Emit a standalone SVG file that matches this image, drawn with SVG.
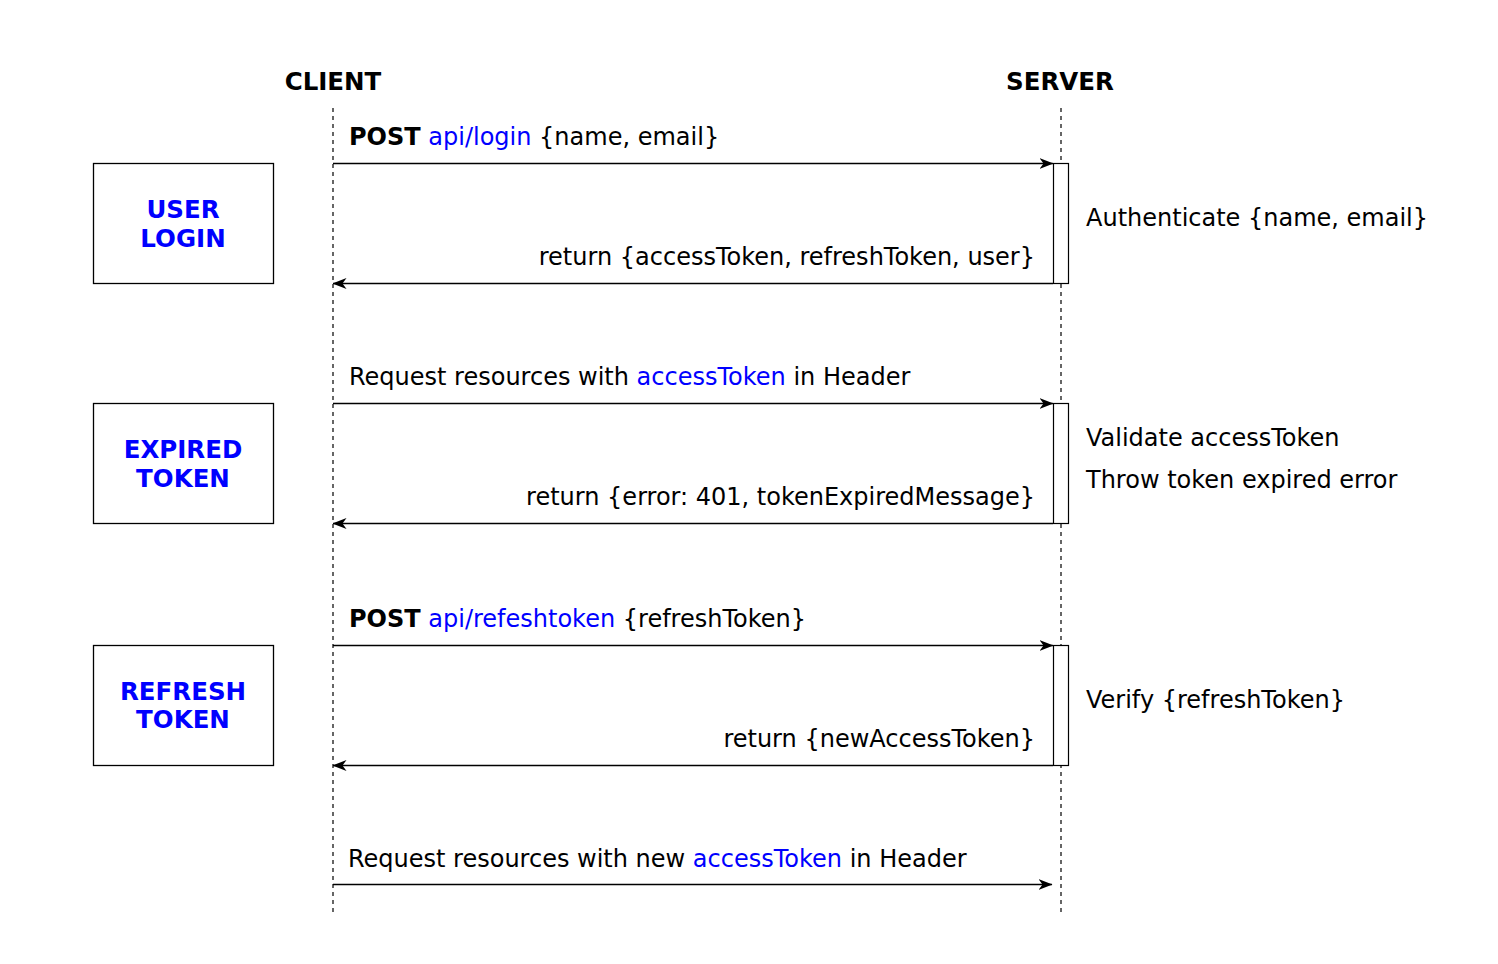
<svg xmlns="http://www.w3.org/2000/svg" width="1498" height="964" viewBox="0 0 1498 964">
<defs>
<marker id="arr" viewBox="0 0 14 12" refX="13.5" refY="6" markerWidth="14" markerHeight="12" markerUnits="userSpaceOnUse" orient="auto">
<path d="M0,0.5 L14,6 L0,11.5 L4,6 Z" fill="#000"/>
</marker>
</defs>
<style>
text{font-family:"DejaVu Sans",Verdana,sans-serif;font-size:24px;fill:#000}
.b{font-weight:bold}
.blue{fill:#0000FF}
.hdr{font-weight:bold;font-size:24.5px}
.lbl{font-weight:bold;font-size:24.5px;fill:#0000FF;text-anchor:middle}
.life{stroke:#000;stroke-width:1.2;stroke-dasharray:4 4;fill:none}
.box{fill:#fff;stroke:#000;stroke-width:1.3}
.act{fill:#fff;stroke:#000;stroke-width:1.2}
.msg{stroke:#000;stroke-width:1.4;fill:none;marker-end:url(#arr)}
.r{text-anchor:end}
</style>
<rect width="1498" height="964" fill="#fff"/>
<g id="client">
<text class="hdr" x="333" y="90" text-anchor="middle">CLIENT</text>
<line class="life" x1="333" y1="108" x2="333" y2="914"/>
</g>
<g id="server">
<text class="hdr" x="1060" y="90" text-anchor="middle">SERVER</text>
<line class="life" x1="1061" y1="108" x2="1061" y2="914"/>
</g>
<g id="user-login">
<rect class="box" x="93.5" y="163.5" width="180" height="120"/>
<text class="lbl" x="183" y="218">USER</text>
<text class="lbl" x="183" y="247">LOGIN</text>
</g>
<g id="expired-token">
<rect class="box" x="93.5" y="403.5" width="180" height="120"/>
<text class="lbl" x="183" y="458">EXPIRED</text>
<text class="lbl" x="183" y="487">TOKEN</text>
</g>
<g id="refresh-token">
<rect class="box" x="93.5" y="645.5" width="180" height="120"/>
<text class="lbl" x="183" y="700">REFRESH</text>
<text class="lbl" x="183" y="728">TOKEN</text>
</g>
<g id="act1"><rect class="act" x="1053.5" y="163.5" width="15" height="120"/>
<text x="1086" y="226">Authenticate {name, email}</text></g>
<g id="act2"><rect class="act" x="1053.5" y="403.5" width="15" height="120"/>
<text x="1086" y="446">Validate accessToken</text>
<text x="1086" y="488">Throw token expired error</text></g>
<g id="act3"><rect class="act" x="1053.5" y="645.5" width="15" height="120"/>
<text x="1086" y="708">Verify {refreshToken}</text></g>
<g id="connectors">
<line class="msg" x1="333" y1="163.5" x2="1053" y2="163.5"/>
<line class="msg" x1="1053" y1="283.5" x2="333" y2="283.5"/>
<line class="msg" x1="333" y1="403.5" x2="1053" y2="403.5"/>
<line class="msg" x1="1053" y1="523.5" x2="333" y2="523.5"/>
<line class="msg" x1="333" y1="645.5" x2="1053" y2="645.5"/>
<line class="msg" x1="1053" y1="765.5" x2="333" y2="765.5"/>
<line class="msg" x1="333" y1="884.5" x2="1052" y2="884.5"/>
</g>
<g id="labels">
<text x="349" y="145"><tspan class="b">POST</tspan> <tspan class="blue">api/login</tspan> {name, email}</text>
<text class="r" x="1035" y="265">return {accessToken, refreshToken, user}</text>
<text x="349" y="385">Request resources with <tspan class="blue">accessToken</tspan> in Header</text>
<text class="r" x="1035" y="505">return {error: 401, tokenExpiredMessage}</text>
<text x="349" y="627"><tspan class="b">POST</tspan> <tspan class="blue">api/refeshtoken</tspan> {refreshToken}</text>
<text class="r" x="1035" y="747">return {newAccessToken}</text>
<text x="348" y="867">Request resources with new <tspan class="blue">accessToken</tspan> in Header</text>
</g>
</svg>
